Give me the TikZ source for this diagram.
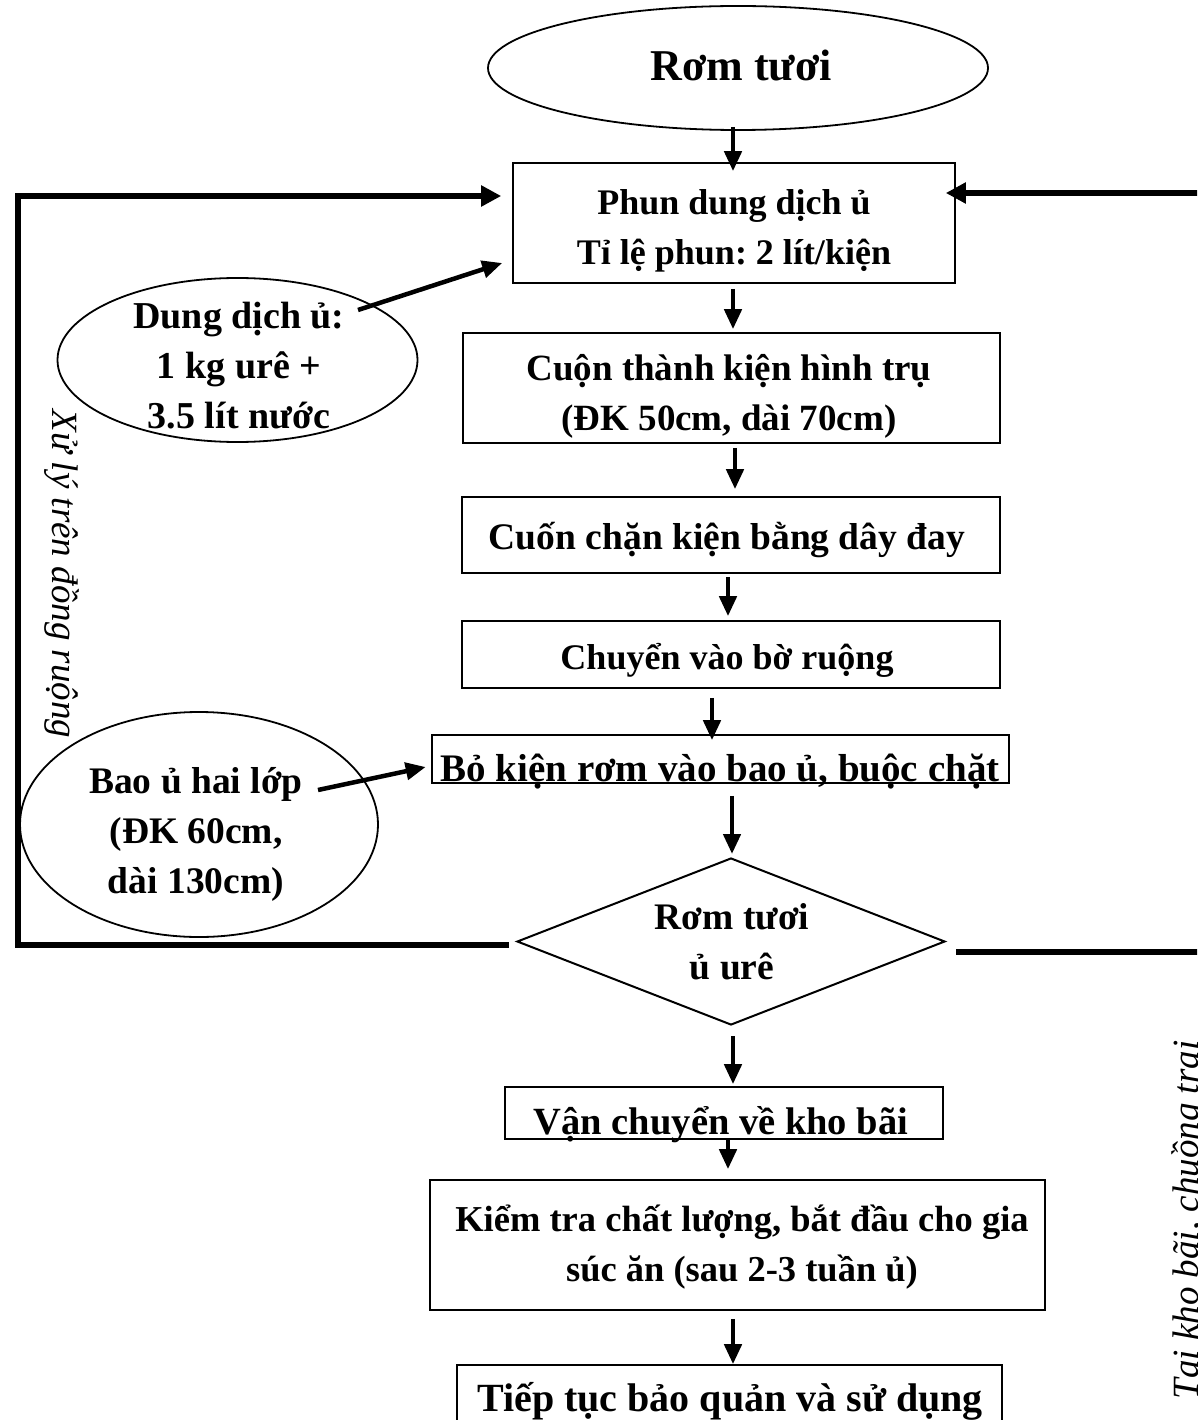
\documentclass[tikz,border=0pt]{standalone}
\usepackage{fontspec}
\setmainfont{Liberation Serif}
\usetikzlibrary{arrows.meta,shapes.geometric,calc}
\frenchspacing
\newcommand{\fs}[1]{\bfseries\fontsize{#1}{50}\selectfont}
\begin{document}
\begin{tikzpicture}[x=1pt,y=-1pt,
  box/.style={draw, line width=1.6pt, inner sep=0pt, rectangle},
  oval/.style={draw, line width=1.8pt, ellipse, inner sep=0pt},
  txt/.style={inner sep=0pt, align=center, font=\fs{36}},
  vtxt/.style={inner sep=0pt, font=\itshape\fontsize{37}{44}\selectfont},
  arr/.style={line width=4.5pt, -{Triangle[length=20pt,width=17pt]}},
  looparr/.style={line width=6pt, -{Triangle[length=20pt,width=20pt]}}
]
\frenchspacing
\useasboundingbox (0,0) rectangle (1197,1420);
\clip (0,0) rectangle (1197,1420);
\fill[white] (0,0) rectangle (1197,1420);

% shapes
\node[oval, minimum width=500, minimum height=124] (e0) at (738,68) {};
\node[box, minimum width=442, minimum height=120] (b1) at (734,223) {};
\node[oval, minimum width=360, minimum height=164] (ed) at (237.5,360) {};
\node[box, minimum width=537, minimum height=110] (b2) at (731.5,388) {};
\node[box, minimum width=538, minimum height=76] (b3) at (731,535) {};
\node[box, minimum width=538, minimum height=67] (b4) at (731,654.5) {};
\node[box, minimum width=577, minimum height=48] (b5) at (720.5,759) {};
\node[oval, minimum width=358, minimum height=225] (eb) at (199,824.5) {};
\node[draw, line width=2pt, diamond, inner sep=0pt, aspect=2.563, minimum width=428, minimum height=167] (dm) at (731,941.5) {};
\node[box, minimum width=438, minimum height=52] (b6) at (724,1113) {};
\node[box, minimum width=615, minimum height=130] (b7) at (737.5,1245) {};
\node[box, minimum width=545, minimum height=100] (b8) at (729.5,1415) {};

% texts
\node[txt, font=\fs{44}] (te0) at (741,71) {\strut Rơm tươi\strut};
\node[txt] (tb1) at (734,229.5) {\strut Phun dung dịch ủ\\Tỉ lệ phun: 2 lít/kiện\strut};
\node[txt, font=\fs{38}] (ted) at (239,368) {\strut Dung dịch ủ:\\1 kg urê +\\3.5 lít nước\strut};
\node[txt, font=\fs{37}] (tb2) at (729,395.5) {\strut Cuộn thành kiện hình trụ\\(ĐK 50cm, dài 70cm)\strut};
\node[txt, font=\fs{37.5}] (tb3) at (727,539) {\strut Cuốn chặn kiện bằng dây đay\strut};
\node[txt] (tb4) at (727,659) {\strut Chuyển vào bờ ruộng\strut};
\node[txt, font=\fs{39}] (tb5) at (720,771) {\strut Bỏ kiện rơm vào bao ủ, buộc chặt\strut};
\node[txt, font=\fs{37.5}] (teb) at (196,833) {\strut Bao ủ hai lớp\\(ĐK 60cm,\\dài 130cm)\strut};
\node[txt, font=\fs{37.5}] (tdm) at (732,944.5) {\strut Rơm tươi\\ủ urê\strut};
\node[txt, font=\fs{38.5}] (tb6) at (721,1124) {\strut Vận chuyển về kho bãi\strut};
\node[txt, font=\fs{36.5}] (tb7) at (742,1246) {\strut Kiểm tra chất lượng, bắt đầu cho gia\\súc ăn (sau 2-3 tuần ủ)\strut};
\node[txt, font=\fs{40}] (tb8) at (730,1401) {\strut Tiếp tục bảo quản và sử dụng\strut};

\node[vtxt, rotate=-90, anchor=base] (tl) at (52,574) {Xử lý trên đồng ruộng};
\node[vtxt, rotate=90, anchor=base] (tr) at (1198,1220) {Tại kho bãi, chuồng trại};

% main arrows
\draw[arr] ($(e0.south)+(-5,-4)$) -- ($(b1.north)+(-1,9)$);
\draw[arr] ($(b1.south)+(-1,5)$) -- ($(b2.north)+(1.5,-3)$);
\draw[arr] ($(b2.south)+(3.5,4)$) -- ($(b3.north)+(4,-7)$);
\draw[arr] ($(b3.south)+(-3,3)$) -- ($(b4.north)+(-3,-4)$);
\draw[arr] ($(b4.south)+(-19,9)$) -- ($(b5.north)+(-8.5,6)$);
\draw[arr] ($(b5.south)+(11.5,12)$) -- ($(dm.north)+(1,-3)$);
\draw[arr] ($(dm.south)+(2,10)$) -- ($(b6.north)+(9,-2)$);
\draw[arr] ($(b6.south)+(4,-2)$) -- ($(b7.north)+(-9.5,-10)$);
\draw[arr] ($(b7.south)+(-4.5,8)$) -- ($(b8.north)+(3.5,0)$);

% side inputs
\draw[arr] ($(ed.center)+(120.5,-50)$) -- ($(b1.west)+(-10,40)$);
\draw[arr] ($(eb.center)+(119,-34.5)$) -- ($(b5.west)+(-5.5,8)$);

% loops
\coordinate (L1) at (18,945);
\coordinate (L2) at (18,196);
\draw[looparr] ($(dm.west)+(-7,3.5)$) -- (L1) -- (L2) -- ($(b1.west)+(-11,-27)$);
\coordinate (R1) at (1215,951.5);
\coordinate (R2) at (1215,193);
\draw[looparr] ($(dm.east)+(10,10)$) -- (R1) -- (R2) -- ($(b1.east)+(-10,-30)$);
\end{tikzpicture}
\end{document}
